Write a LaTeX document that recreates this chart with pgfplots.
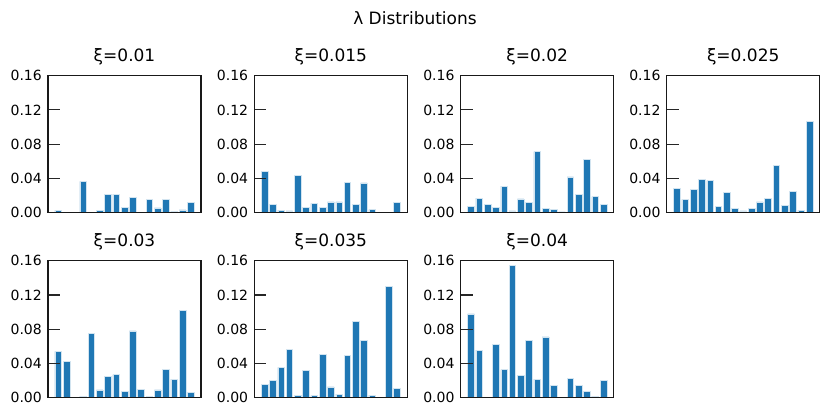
\documentclass[border=0pt]{standalone}
\usepackage{fontspec}
\setmainfont{DejaVu Sans}
\usepackage{pgfplots}
\pgfplotsset{compat=1.18}
\definecolor{mplblue}{HTML}{1F77B4}
\pgfplotsset{
  panel/.style={
    scale only axis, width=153pt, height=137pt,
    anchor=south west,
    axis on top,
    xmin=-1.24, xmax=17.24, ymin=0, ymax=0.16,
    xtick=\empty,
    ytick={0,0.04,0.08,0.12,0.16},
    ytick pos=left,
    tick align=inside,
    major tick length=12pt,
    tick style={line width=1.1pt, color=black!85},
    axis line style={line width=1.4pt, black!90},
    /pgf/number format/assume math mode=true,
    yticklabel style={font=\fontsize{14}{16}\selectfont, inner sep=0pt, anchor=east, xshift=-6pt, /pgf/number format/fixed, /pgf/number format/precision=2, /pgf/number format/fixed zerofill},
    scaled y ticks=false,
    title style={font=\fontsize{17}{20}\selectfont, at={(0.5,1)}, anchor=base, yshift=8.5pt},
    ybar, bar width=0.8, bar shift=0pt,
  },
  mybar/.style={fill=mplblue, draw=white!80!mplblue, line width=0.5pt},
}
\begin{document}
\begin{tikzpicture}
\path[use as bounding box] (0,0) rectangle (830pt,418pt);
\node[font=\fontsize{17}{20}\selectfont, anchor=base] at (415pt,393pt) {λ Distributions};

\begin{axis}[panel, at={(48pt,205.3pt)}, title={ξ=0.01}]
\addplot[mybar] table {
x y
0 0.0027
3 0.0366
4 0.0008
5 0.0028
6 0.0210
7 0.0218
8 0.0066
9 0.0175
10 0.0008
11 0.0156
12 0.0055
13 0.0153
14 0.0016
15 0.0032
16 0.0122
};
\end{axis}

\begin{axis}[panel, at={(254.3pt,205.3pt)}, title={ξ=0.015}]
\addplot[mybar] table {
x y
0 0.0480
1 0.0093
2 0.0030
3 0.0020
4 0.0440
5 0.0066
6 0.0110
7 0.0058
8 0.0125
9 0.0125
10 0.0350
11 0.0093
12 0.0348
13 0.0035
16 0.0122
};
\end{axis}

\begin{axis}[panel, at={(460.7pt,205.3pt)}, title={ξ=0.02}]
\addplot[mybar] table {
x y
0 0.0074
1 0.0170
2 0.0097
3 0.0058
4 0.0310
5 0.0020
6 0.0160
7 0.0120
8 0.0712
9 0.0054
10 0.0039
11 0.0010
12 0.0417
13 0.0218
14 0.0623
15 0.0187
16 0.0097
};
\end{axis}

\begin{axis}[panel, at={(666.7pt,205.3pt)}, title={ξ=0.025}]
\addplot[mybar] table {
x y
0 0.0284
1 0.0156
2 0.0276
3 0.0390
4 0.0374
5 0.0078
6 0.0241
7 0.0047
8 0.0020
9 0.0047
10 0.0125
11 0.0171
12 0.0557
13 0.0082
14 0.0249
15 0.0027
16 0.1067
};
\end{axis}

\begin{axis}[panel, at={(48pt,20.3pt)}, title={ξ=0.03}]
\addplot[mybar] table {
x y
0 0.0541
1 0.0428
3 0.0019
4 0.0751
5 0.0090
6 0.0253
7 0.0269
8 0.0078
9 0.0779
10 0.0093
11 0.0016
12 0.0090
13 0.0331
14 0.0218
15 0.1020
16 0.0058
};
\end{axis}

\begin{axis}[panel, at={(254.3pt,20.3pt)}, title={ξ=0.035}]
\addplot[mybar] table {
x y
0 0.0160
1 0.0206
2 0.0354
3 0.0568
4 0.0031
5 0.0319
6 0.0023
7 0.0510
8 0.0125
9 0.0043
10 0.0498
11 0.0891
12 0.0673
13 0.0031
15 0.1300
16 0.0113
};
\end{axis}

\begin{axis}[panel, at={(460.7pt,20.3pt)}, title={ξ=0.04}]
\addplot[mybar] table {
x y
0 0.0980
1 0.0557
3 0.0627
4 0.0327
5 0.1545
6 0.0257
7 0.0670
8 0.0218
9 0.0709
10 0.0148
12 0.0230
13 0.0148
14 0.0074
15 0.0019
16 0.0199
};
\end{axis}
\end{tikzpicture}
\end{document}
